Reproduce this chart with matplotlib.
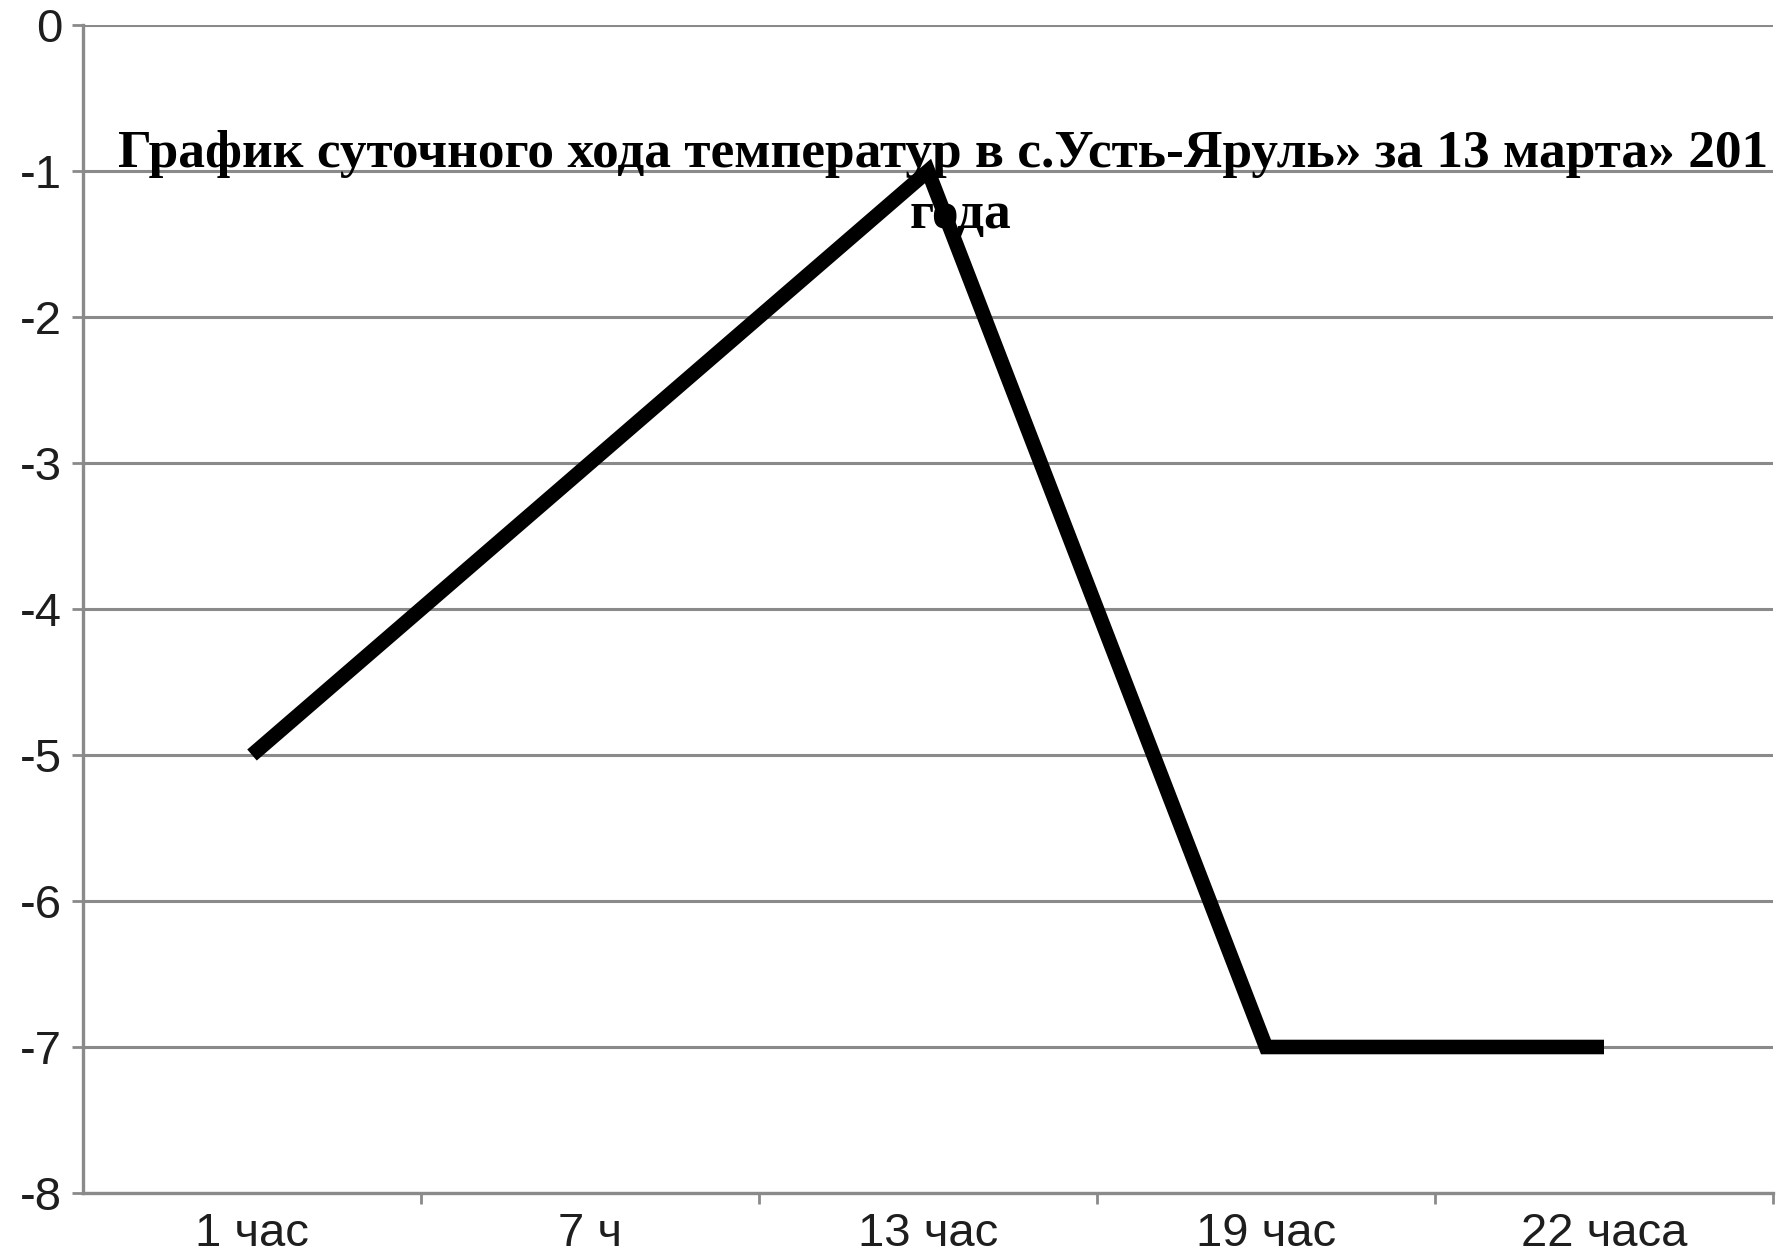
import matplotlib
matplotlib.use("Agg")
import matplotlib.pyplot as plt
from matplotlib.ticker import FixedLocator, NullFormatter

hours = ["1 час", "7 ч", "13 час", "19 час", "22 часа"]
temps = [-5, -3, -1, -7, -7]
yticks = [0, -1, -2, -3, -4, -5, -6, -7, -8]
title_line1 = "График суточного хода температур в с.Усть-Яруль» за 13 марта» 201"
title_line2 = "года"

W, H, DPI = 1776, 1260, 100
fig = plt.figure(figsize=(W / DPI, H / DPI), dpi=DPI)
ax = fig.add_axes([83 / W, 1 - 1193 / H, (1773 - 83) / W, (1193 - 25) / H])

grey = "#8a8a8a"
ax.set_xlim(-0.5, len(hours) - 0.5)
ax.set_ylim(-8, 0)
ax.set_yticks(yticks)
ax.set_yticklabels([str(v) for v in yticks])
ax.yaxis.grid(True, color=grey, linewidth=2.2)
ax.set_axisbelow(True)

for side in ("top", "right"):
    ax.spines[side].set_visible(False)
for side in ("left", "bottom"):
    ax.spines[side].set_color(grey)
    ax.spines[side].set_linewidth(2.4)

# category labels in the middle, tick marks on the boundaries
ax.set_xticks(range(len(hours)))
ax.set_xticklabels(hours)
ax.tick_params(axis="x", which="major", length=0, pad=14)
ax.xaxis.set_minor_locator(FixedLocator([i + 0.5 for i in range(len(hours))]))
ax.xaxis.set_minor_formatter(NullFormatter())
ax.tick_params(axis="x", which="minor", length=8, width=2, color=grey)
ax.tick_params(axis="y", length=8, width=2, color=grey, pad=7)

for lbl in ax.get_xticklabels() + ax.get_yticklabels():
    lbl.set_fontfamily("Liberation Sans")
    lbl.set_fontsize(34)
    lbl.set_color("#1e1e1e")

ax.plot(range(len(hours)), temps, color="black", linewidth=10.5,
        solid_capstyle="butt", solid_joinstyle="miter", zorder=3)

# title: fit the first line to its span across the figure
t1 = fig.text(118 / W, 1 - 167 / H, title_line1, family="Liberation Serif",
              weight="bold", fontsize=30, ha="left", va="baseline", zorder=5)
fig.canvas.draw()
w = t1.get_window_extent().width
t1.set_fontsize(30 * (1770 - 118) / w)
fig.text(960 / W, 1 - 228 / H, title_line2, family="Liberation Serif",
         weight="bold", fontsize=t1.get_fontsize(), ha="center", va="baseline",
         zorder=5)

fig.savefig("out.png", dpi=DPI)
